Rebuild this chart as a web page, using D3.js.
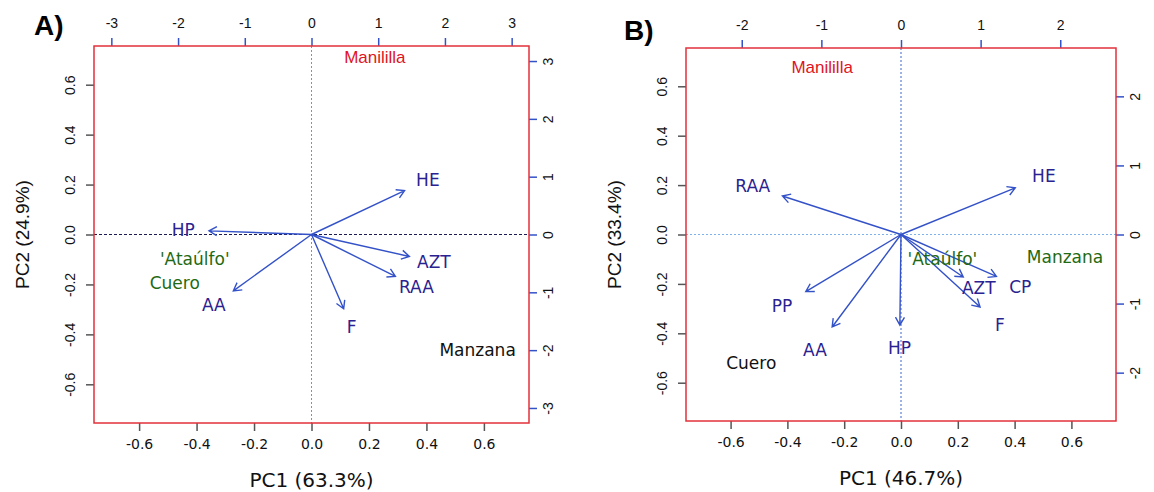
<!DOCTYPE html>
<html>
<head>
<meta charset="utf-8">
<script src="https://cdn.jsdelivr.net/npm/d3@7"></script>
<style>
  body { margin: 0; background: #fff; }
  svg { display: block; }
</style>
</head>
<body>
<svg id="chart" width="1154" height="492"></svg>
<script>
// loadings (PC1, PC2) of the variables, panel A
const varsA = ["HE", "HP", "AZT", "RAA", "F", "AA"];
const varsA_pc1 = [0.405, -0.446, 0.426, 0.365, 0.14, -0.34];
const varsA_pc2 = [0.22, 0.018, -0.11, -0.21, -0.372, -0.282];
// scores of the cultivars, panel A
const obsA = ["Manililla", "'Ataúlfo'", "Cuero", "Manzana"];
const obsA_pc1 = [0.95, -1.75, -2.05, 2.49];
const obsA_pc2 = [3.07, -0.42, -0.83, -1.99];

// panel B
const varsB = ["HE", "RAA", "PP", "AA", "HP", "AZT", "CP", "F"];
const varsB_pc1 = [0.503, -0.522, -0.419, -0.303, -0.005, 0.274, 0.42, 0.348];
const varsB_pc2 = [0.236, 0.195, -0.289, -0.468, -0.458, -0.215, -0.212, -0.367];
const obsB = ["Manililla", "'Ataúlfo'", "Manzana", "Cuero"];
const obsB_pc1 = [-0.99, 0.52, 2.06, -1.88];
const obsB_pc2 = [2.42, -0.36, -0.32, -1.86];

const loadTicks = [-0.6, -0.4, -0.2, 0, 0.2, 0.4, 0.6];
const scoreTicksA = [-3, -2, -1, 0, 1, 2, 3];
const scoreTicksB = [-2, -1, 0, 1, 2];

const svg = d3.select("#chart");
const blue = "#3452c8";
const labelCol = "#2a2290";
// hyphen minus like the R output
const fmt1 = d => d.toFixed(1);
const fmt0 = d => String(d);

function panel(o) {
  const g = svg.append("g");
  const x = d3.scaleLinear().domain([-0.757, 0.757]).range([o.left, o.right]);
  const y = d3.scaleLinear().domain([-0.755, 0.755]).range([o.bottom, o.top]);
  const sx = d3.scaleLinear().domain([-o.lim, o.lim]).range([o.left, o.right]);
  const sy = d3.scaleLinear().domain([-o.lim, o.lim]).range([o.bottom, o.top]);

  // zero lines
  g.append("line")
    .attr("x1", o.left).attr("x2", o.right)
    .attr("y1", y(0)).attr("y2", y(0))
    .attr("stroke", o.hCol).attr("stroke-width", 1)
    .attr("stroke-dasharray", o.hDash)
  g.append("line")
    .attr("x1", x(0)).attr("x2", x(0))
    .attr("y1", o.top).attr("y2", o.bottom)
    .attr("stroke", o.vCol).attr("stroke-width", 1)
    .attr("stroke-dasharray", "2,2")

  // bottom axis
  const bx = g.append("g")
    .attr("transform", `translate(0,${o.bottom})`)
    .call(d3.axisBottom(x).tickValues(loadTicks).tickSize(8).tickPadding(8).tickFormat(fmt1))
  bx.select(".domain").remove()
  bx.selectAll("line").attr("stroke", "#555").attr("stroke-width", 1.5)
  bx.selectAll("text").attr("font-family", "DejaVu Sans").attr("font-size", 14).attr("fill", "#111")

  // left axis, labels parallel to axis
  const ly = g.append("g")
    .attr("transform", `translate(${o.left},0)`)
    .call(d3.axisLeft(y).tickValues(loadTicks).tickSize(8).tickFormat(fmt1))
  ly.select(".domain").remove()
  ly.selectAll("line").attr("stroke", "#555").attr("stroke-width", 1.5)
  ly.selectAll("text")
    .attr("x", null).attr("dy", null)
    .attr("transform", "translate(-19,0) rotate(-90)")
    .attr("text-anchor", "middle")
    .attr("font-family", "Liberation Sans").attr("font-size", 14).attr("fill", "#111")

  // top axis (scores)
  const tx = g.append("g")
    .attr("transform", `translate(0,${o.top})`)
    .call(d3.axisTop(sx).tickValues(o.sTicks).tickSize(8).tickPadding(10).tickFormat(fmt0))
  tx.select(".domain").remove()
  tx.selectAll("line").attr("stroke", blue).attr("stroke-width", 1.5)
  tx.selectAll("text").attr("font-family", "Liberation Sans").attr("font-size", 14).attr("fill", "#111")

  // right axis (scores)
  const ry = g.append("g")
    .attr("transform", `translate(${o.right},0)`)
    .call(d3.axisRight(sy).tickValues(o.sTicks).tickSize(8).tickFormat(fmt0))
  ry.select(".domain").remove()
  ry.selectAll("line").attr("stroke", blue).attr("stroke-width", 1.5)
  ry.selectAll("text")
    .attr("x", null).attr("dy", null)
    .attr("transform", "translate(24,0) rotate(-90)")
    .attr("text-anchor", "middle")
    .attr("font-family", "Liberation Sans").attr("font-size", 14).attr("fill", "#111")

  // box
  g.append("rect")
    .attr("x", o.left).attr("y", o.top)
    .attr("width", o.right - o.left).attr("height", o.bottom - o.top)
    .attr("fill", "none").attr("stroke", "#e2323a").attr("stroke-width", 1.5)

  // arrows to 0.8 of the loading, label at the loading
  const vars = o.vars.map((v, i) => ({ name: v, a: o.pc1[i], b: o.pc2[i] }))
  const x0 = x(0), y0 = y(0)
  vars.forEach(d => {
    const x1 = x(d.a * 0.8), y1 = y(d.b * 0.8)
    const ang = Math.atan2(y1 - y0, x1 - x0)
    const L = 9, sp = Math.PI / 6
    const p = `M${x0},${y0}L${x1},${y1}` +
      `M${x1 - L * Math.cos(ang - sp)},${y1 - L * Math.sin(ang - sp)}L${x1},${y1}` +
      `L${x1 - L * Math.cos(ang + sp)},${y1 - L * Math.sin(ang + sp)}`
    g.append("path").attr("d", p).attr("fill", "none")
      .attr("stroke", blue).attr("stroke-width", 1.4)
  })
  g.selectAll(".vlab")
    .data(vars)
    .enter()
    .append("text")
    .attr("x", d => x(d.a))
    .attr("y", d => y(d.b))
    .attr("dy", "0.36em")
    .attr("text-anchor", "middle")
    .attr("font-family", "DejaVu Sans").attr("font-size", 17)
    .attr("fill", labelCol)
    .text(d => d.name)

  // cultivar scores
  g.selectAll(".olab")
    .data(o.obs.map((v, i) => ({ name: v, a: o.s1[i], b: o.s2[i] })))
    .enter()
    .append("text")
    .attr("x", d => sx(d.a))
    .attr("y", d => sy(d.b))
    .attr("dy", "0.36em")
    .attr("text-anchor", "middle")
    .attr("font-family", d => d.name == "Manililla" ? "Liberation Sans" : "DejaVu Sans")
    .attr("font-size", 17)
    .attr("fill", d => o.obsCol[d.name])
    .text(d => d.name)

  // axis titles
  g.append("text")
    .attr("x", x(0)).attr("y", o.bottom + 64)
    .attr("text-anchor", "middle")
    .attr("font-family", "DejaVu Sans").attr("font-size", 20).attr("fill", "#111")
    .text(o.xTitle)
  g.append("text")
    .attr("transform", `translate(${o.left - 65},${y(0)}) rotate(-90)`)
    .attr("text-anchor", "middle")
    .attr("font-family", "Liberation Sans").attr("font-size", 19).attr("fill", "#111")
    .text(o.yTitle)
  g.append("text")
    .attr("x", o.tagX).attr("y", o.tagY)
    .attr("font-family", "Liberation Sans").attr("font-weight", "bold")
    .attr("font-size", 28).attr("fill", "#000")
    .text(o.tag)
}

panel({
  left: 94, right: 529, top: 46, bottom: 423, lim: 3.26, sTicks: scoreTicksA,
  vars: varsA, pc1: varsA_pc1, pc2: varsA_pc2,
  obs: obsA, s1: obsA_pc1, s2: obsA_pc2,
  obsCol: { "Manililla": "#e0141e", "'Ataúlfo'": "#1f6a12", "Cuero": "#1f6a12", "Manzana": "#111" },
  hCol: "#1c1c50", hDash: "3,2", vCol: "#5b9be6",
  xTitle: "PC1 (63.3%)", yTitle: "PC2 (24.9%)", tag: "A)", tagX: 34, tagY: 35
})

panel({
  left: 686, right: 1116, top: 48, bottom: 421, lim: 2.70, sTicks: scoreTicksB,
  vars: varsB, pc1: varsB_pc1, pc2: varsB_pc2,
  obs: obsB, s1: obsB_pc1, s2: obsB_pc2,
  obsCol: { "Manililla": "#e0141e", "'Ataúlfo'": "#1f6a12", "Manzana": "#1f6a12", "Cuero": "#111" },
  hCol: "#7fb2ea", hDash: "2,2", vCol: "#3a66cc",
  xTitle: "PC1 (46.7%)", yTitle: "PC2 (33.4%)", tag: "B)", tagX: 624, tagY: 40
})
</script>
</body>
</html>
